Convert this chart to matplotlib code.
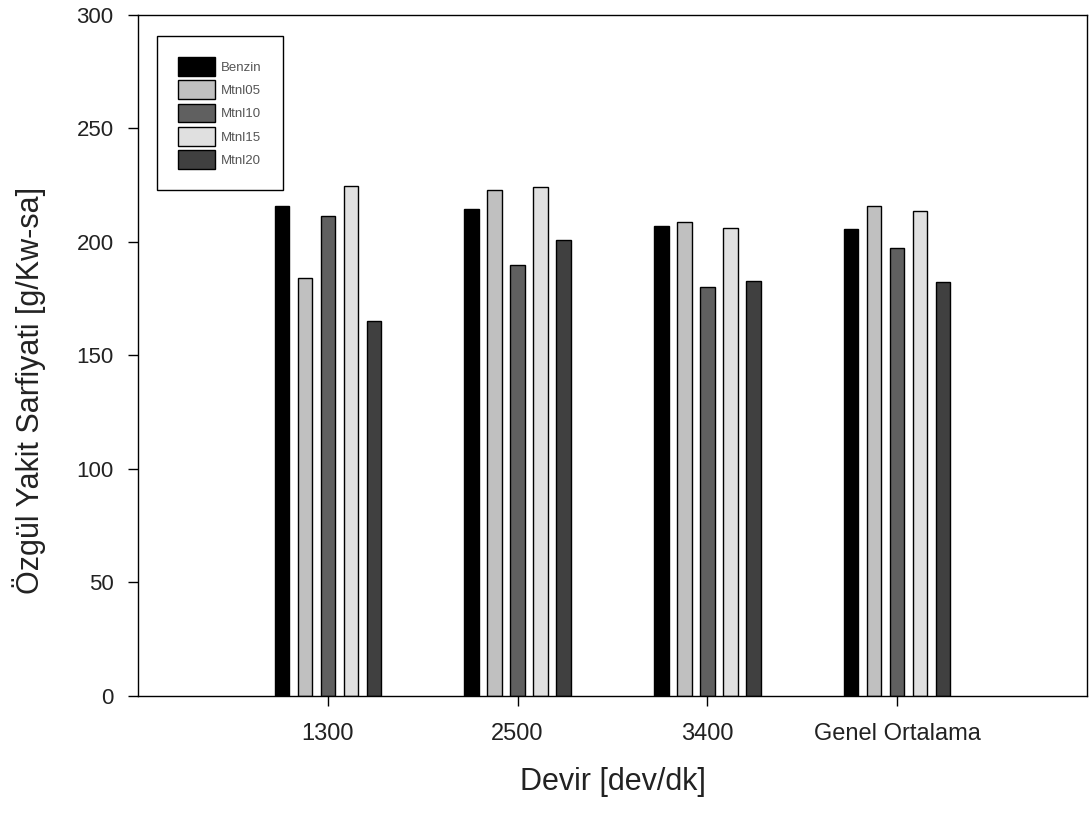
import matplotlib
matplotlib.use('Agg')
import matplotlib.pyplot as plt
import numpy as np

plt.rcParams['font.family'] = ['Liberation Sans', 'DejaVu Sans']

# data
categories = ['1300', '2500', '3400', 'Genel Ortalama']
series_names = ['Benzin', 'Mtnl05', 'Mtnl10', 'Mtnl15', 'Mtnl20']
benzin = [216, 214.5, 207, 205.5]
mtnl05 = [184, 223, 209, 216]
mtnl10 = [211.5, 190, 180, 197.5]
mtnl15 = [224.5, 224, 206, 213.5]
mtnl20 = [165, 201, 183, 182.5]
values = [benzin, mtnl05, mtnl10, mtnl15, mtnl20]
colors = ['#000000', '#c0c0c0', '#606060', '#e0e0e0', '#404040']

fig = plt.figure(figsize=(10.92, 8.14), dpi=100)
ax = fig.add_axes([0.1264, 0.145, 0.869, 0.8366])

x = np.arange(1, len(categories) + 1)
slot = 0.121
width = 0.076
for i, (name, vals) in enumerate(zip(series_names, values)):
    ax.bar(x + (i - 2) * slot, vals, width, color=colors[i],
           edgecolor='black', linewidth=1.0, label=name)

ax.set_xlim(0, 5)
ax.set_ylim(0, 300)
ax.set_yticks(np.arange(0, 301, 50))
ax.set_xticks(x)
ax.set_xticklabels(categories)
ax.tick_params(axis='both', direction='out', length=7.5, width=1)
ax.tick_params(axis='y', labelsize=16, pad=10, colors='#222222')
ax.tick_params(axis='x', labelsize=17, pad=12, colors='#222222')
ax.tick_params(axis='both', color='black')
for s in ax.spines.values():
    s.set_linewidth(1.0)

ax.set_xlabel('Devir [dev/dk]', fontsize=22, labelpad=16, color='#222222')
# label sits a bit below the axes centre in the original
ax.set_ylabel('Özgül Yakit Sarfiyati [g/Kw-sa]', fontsize=22, labelpad=22,
              color='#222222', y=0.449)

leg = ax.legend(loc='upper left', bbox_to_anchor=(0.02, 0.969), borderaxespad=0,
                fontsize=9.5, handlelength=2.8, handleheight=1.8, labelspacing=0.35,
                borderpad=1.6, handletextpad=0.45, fancybox=False,
                edgecolor='black', framealpha=1)
leg.get_frame().set_linewidth(1.0)
for t in leg.get_texts():
    t.set_color('#555555')

fig.savefig('out.png', dpi=100)
